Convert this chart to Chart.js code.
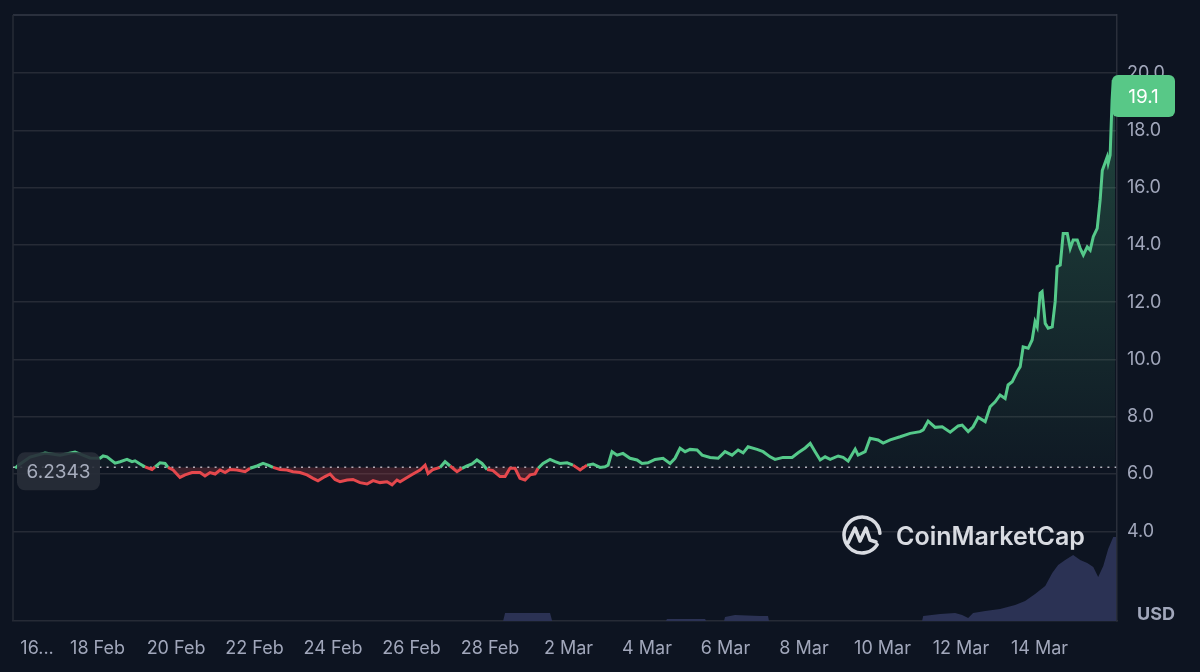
<!DOCTYPE html>
<html>
<head>
<meta charset="utf-8">
<script src="https://cdn.jsdelivr.net/npm/chart.js@4.4.1/dist/chart.umd.min.js"></script>
<style>
  html, body { margin: 0; padding: 0; background: #0d1421; }
  #wrap { width: 1200px; height: 672px; }
</style>
</head>
<body>
<div id="wrap"><canvas id="priceChart" width="1200" height="672"></canvas></div>
<script>
// hours since 16 Feb 00:00
const hours = [
  -2.4, -0.6, 6.7, 15.9, 25.1, 34.2, 43.4, 49.5, 51.4, 53.8, 58.7, 61.8, 66.0, 69.1, 70.9, 74.0, 77.0, 81.3, 83.2, 86.2,
  89.3, 91.1, 94.2, 98.4, 101.5, 105.8, 110.7, 113.7, 116.8, 119.9, 122.9, 126.0, 129.0, 133.3, 138.2, 141.3, 145.5, 149.2, 152.3, 155.3,
  159.6, 163.9, 167.5, 171.8, 176.1, 179.8, 182.8, 187.1, 190.2, 193.2, 196.3, 200.6, 204.2, 208.5, 212.8, 216.5, 220.7, 225.0, 228.1, 231.1,
  233.0, 237.3, 240.9, 245.2, 248.3, 250.1, 253.2, 257.4, 260.5, 263.6, 267.8, 270.9, 273.9, 277.0, 280.0, 283.1, 286.2, 289.8, 294.1, 297.2,
  300.2, 303.3, 306.3, 309.4, 312.5, 315.5, 317.4, 320.4, 324.7, 327.8, 330.8, 335.1, 338.8, 343.1, 347.3, 351.0, 355.3, 358.3, 360.2, 362.6,
  365.7, 369.3, 373.6, 377.9, 380.9, 384.6, 388.9, 393.8, 398.1, 401.1, 404.2, 407.3, 410.3, 414.6, 417.7, 422.6, 427.5, 431.7, 436.0, 439.7,
  442.8, 445.8, 451.3, 455.0, 459.3, 462.3, 467.2, 472.7, 476.4, 480.7, 483.8, 486.8, 489.9, 492.9, 496.0, 500.9, 503.9, 507.0, 511.3, 513.1,
  517.4, 520.4, 525.3, 528.4, 532.7, 538.8, 544.9, 551.0, 552.9, 555.9, 560.2, 564.5, 569.4, 574.3, 576.7, 580.4, 583.4, 586.5, 590.8, 593.8,
  596.9, 599.9, 603.0, 604.8, 607.3, 610.3, 612.2, 614.0, 617.1, 619.5, 621.3, 622.6, 624.4, 625.6, 627.5, 629.3, 631.8, 633.6, 634.8, 636.7,
  638.5, 641.0, 642.8, 644.6, 647.1, 648.9, 650.8, 653.2, 655.0, 656.9, 659.3, 661.1, 662.4, 665.4, 666.0, 667.2, 668.4, 669.1, 670.3
];
const prices = [
  6.20, 6.30, 6.59, 6.73, 6.66, 6.77, 6.56, 6.55, 6.63, 6.60, 6.38, 6.43, 6.51, 6.43, 6.46, 6.35, 6.25, 6.16, 6.25, 6.39,
  6.37, 6.23, 6.14, 5.88, 5.97, 6.05, 6.05, 5.93, 6.05, 6.00, 6.14, 6.05, 6.16, 6.14, 6.08, 6.20, 6.28, 6.37, 6.31, 6.23,
  6.16, 6.14, 6.08, 6.05, 5.97, 5.85, 5.76, 5.91, 6.00, 5.81, 5.73, 5.79, 5.81, 5.70, 5.65, 5.77, 5.70, 5.73, 5.62, 5.79,
  5.73, 5.88, 6.00, 6.14, 6.31, 6.02, 6.16, 6.23, 6.43, 6.28, 6.08, 6.20, 6.28, 6.35, 6.49, 6.37, 6.16, 6.12, 5.91, 5.91,
  6.20, 6.20, 5.85, 5.79, 5.97, 6.00, 6.20, 6.37, 6.51, 6.43, 6.37, 6.39, 6.31, 6.14, 6.31, 6.35, 6.23, 6.25, 6.31, 6.78,
  6.66, 6.72, 6.55, 6.49, 6.37, 6.39, 6.51, 6.55, 6.37, 6.55, 6.90, 6.78, 6.86, 6.84, 6.66, 6.58, 6.55, 6.78, 6.66, 6.84,
  6.74, 6.95, 6.86, 6.78, 6.60, 6.51, 6.58, 6.58, 6.74, 6.91, 7.07, 6.78, 6.49, 6.60, 6.51, 6.63, 6.58, 6.45, 6.87, 6.66,
  6.78, 7.25, 7.19, 7.08, 7.19, 7.30, 7.42, 7.48, 7.54, 7.85, 7.63, 7.65, 7.46, 7.68, 7.71, 7.48, 7.65, 7.98, 7.83, 8.35,
  8.52, 8.76, 8.64, 9.11, 9.22, 9.57, 9.75, 10.44, 10.39, 10.68, 11.32, 11.14, 12.31, 12.37, 11.26, 11.09, 11.14, 12.02, 13.24, 13.30,
  14.40, 14.40, 13.88, 14.17, 14.17, 13.88, 13.65, 13.93, 13.82, 14.29, 14.58, 15.57, 16.60, 17.07, 16.86, 17.14, 19.06, 19.76, 19.10
];

// volume (arbitrary units)
const volHours = [
  -3.7, 296.0, 297.2, 324.7, 326.0, 395.6, 396.2, 419.5, 420.1, 431.1, 431.7, 437.8, 453.1, 458.0, 458.6, 552.2, 552.9, 563.2, 572.4, 576.7,
  580.4, 583.4, 590.8, 599.9, 609.1, 615.2, 621.3, 627.5, 631.8, 635.4, 639.7, 644.6, 648.9, 653.2, 656.9, 659.9, 663.0, 666.0, 669.1, 670.9
];
const volumes = [
  0, 0, 8, 8, 0, 0, 2, 2, 0, 0, 4, 6, 5, 5, 0, 0, 5, 7, 8, 6,
  3, 8, 10, 12, 16, 20, 27, 35, 48, 56, 61, 66, 61, 58, 54, 44, 55, 72, 84, 84
];

const tickHours = [11, 48, 96, 144, 192, 240, 288, 336, 384, 432, 480, 528, 576, 624];
const tickLabels = ['16...', '18 Feb', '20 Feb', '22 Feb', '24 Feb', '26 Feb', '28 Feb', '2 Mar', '4 Mar', '6 Mar', '8 Mar', '10 Mar', '12 Mar', '14 Mar'];
const yTicks = [4, 6, 8, 10, 12, 14, 16, 18, 20];
const openPrice = 6.2343;

const GREEN = '#55c98a';
const RED = '#e5484d';
const LABEL = '#a1a7bb';
const GRID = '#262b36';

Chart.defaults.font.family = 'Inter, "Noto Sans", sans-serif';
Chart.defaults.color = LABEL;

const priceData = hours.map((h, i) => ({ x: h, y: prices[i] }));
const volData = volHours.map((h, i) => ({ x: h, y: volumes[i] }));
const baseData = [{ x: -3.7, y: openPrice }, { x: 670.9, y: openPrice }];

const decorPlugin = {
  id: 'decor',
  beforeDraw(chart) {
    const ctx = chart.ctx;
    ctx.save();
    ctx.fillStyle = '#0d1421';
    ctx.fillRect(0, 0, chart.width, chart.height);
    ctx.restore();
  },
  beforeDatasetsDraw(chart) {
    const { ctx, chartArea } = chart;
    ctx.save();
    ctx.strokeStyle = '#353a47';
    ctx.lineWidth = 1.5;
    ctx.beginPath();
    ctx.moveTo(chartArea.left, chartArea.top);
    ctx.lineTo(chartArea.right, chartArea.top);
    ctx.stroke();
    ctx.strokeStyle = GRID;
    ctx.beginPath();
    ctx.moveTo(chartArea.left, chartArea.top);
    ctx.lineTo(chartArea.left, chartArea.bottom);
    ctx.stroke();

    // watermark
    const cx = 862, cy = 535, r = 18;
    ctx.strokeStyle = 'rgba(228,230,236,0.95)';
    ctx.lineWidth = 3.5;
    ctx.lineCap = 'round';
    ctx.lineJoin = 'round';
    ctx.beginPath();
    ctx.arc(cx, cy, r, 0.18 * Math.PI, 1.97 * Math.PI);
    ctx.stroke();
    ctx.beginPath();
    ctx.moveTo(cx - 14, cy + 8);
    ctx.lineTo(cx - 7, cy - 7);
    ctx.lineTo(cx - 2, cy + 6);
    ctx.lineTo(cx + 4, cy - 7);
    ctx.lineTo(cx + 8, cy + 5);
    ctx.lineTo(cx + 14, cy + 7);
    ctx.stroke();
    ctx.fillStyle = 'rgba(228,230,236,0.95)';
    ctx.font = '600 25px Inter, "Noto Sans", sans-serif';
    ctx.textBaseline = 'alphabetic';
    ctx.textAlign = 'left';
    ctx.fillText('CoinMarketCap', 896, 545);
    ctx.restore();
  },
  afterDraw(chart) {
    const { ctx } = chart;
    const y = chart.scales.y;
    ctx.save();
    // last price tag
    const last = prices[prices.length - 1];
    const ly = y.getPixelForValue(last) - 3;
    ctx.fillStyle = '#58c887';
    ctx.beginPath();
    ctx.roundRect(1112, ly - 21, 63, 42, 6);
    ctx.fill();
    ctx.fillStyle = '#ffffff';
    ctx.font = '19px Inter, "Noto Sans", sans-serif';
    ctx.textAlign = 'center';
    ctx.textBaseline = 'middle';
    ctx.fillText(last.toFixed(1), 1143.5, ly + 1);

    // open price tag
    const oy = y.getPixelForValue(openPrice) + 4;
    ctx.fillStyle = 'rgba(40,45,56,0.9)';
    ctx.beginPath();
    ctx.roundRect(17, oy - 19, 83, 38, 8);
    ctx.fill();
    ctx.fillStyle = '#a7adbd';
    ctx.fillText(openPrice.toString(), 58.5, oy + 1);

    // currency
    ctx.fillStyle = LABEL;
    ctx.font = 'bold 18px Inter, "Noto Sans", sans-serif';
    ctx.textAlign = 'left';
    ctx.fillText('USD', 1137, 615);
    ctx.restore();
  }
};

const ctx = document.getElementById('priceChart').getContext('2d');
new Chart(ctx, {
  type: 'line',
  data: {
    datasets: [
      {
        label: 'Price',
        data: priceData,
        order: 1,
        borderColor: GREEN,
        borderWidth: 3,
        pointRadius: 0,
        tension: 0,
        segment: {
          borderColor: c => ((c.p0.parsed.y + c.p1.parsed.y) / 2 < openPrice ? RED : GREEN)
        },
        backgroundColor: function (context) {
          const chart = context.chart;
          const area = chart.chartArea;
          if (!area || !chart.scales.y) return 'rgba(85,201,138,0.1)';
          const y0 = chart.scales.y.getPixelForValue(openPrice);
          const g = chart.ctx.createLinearGradient(0, area.top, 0, y0);
          g.addColorStop(0, 'rgba(85,201,138,0.32)');
          g.addColorStop(1, 'rgba(85,201,138,0.03)');
          return g;
        },
        fill: { target: { value: openPrice }, below: 'rgba(229,72,77,0.22)' }
      },
      {
        label: 'Open',
        data: baseData,
        order: 2,
        borderColor: 'rgba(220,224,235,0.8)',
        borderWidth: 1.6,
        borderDash: [2, 5.2],
        pointRadius: 0,
        fill: false
      },
      {
        label: 'Volume',
        data: volData,
        yAxisID: 'yVol',
        order: 3,
        borderWidth: 0,
        borderColor: 'rgba(0,0,0,0)',
        backgroundColor: '#2b3254',
        pointRadius: 0,
        tension: 0,
        fill: 'origin'
      }
    ]
  },
  options: {
    responsive: false,
    animation: false,
    devicePixelRatio: 1,
    layout: { padding: { left: 13, top: 15, right: 0, bottom: 0 } },
    plugins: { legend: { display: false }, tooltip: { enabled: false } },
    scales: {
      x: {
        type: 'linear',
        min: -3.7,
        max: 671.4,
        afterBuildTicks: axis => { axis.ticks = tickHours.map(v => ({ value: v })); },
        afterFit: axis => { axis.height = 51; axis.paddingLeft = 0; axis.paddingRight = 0; },
        grid: { display: false, drawTicks: false },
        border: { display: true, color: GRID, width: 1.5 },
        ticks: {
          autoSkip: false,
          maxRotation: 0,
          padding: 17,
          color: LABEL,
          font: { size: 18 },
          callback: (v, i) => tickLabels[i]
        }
      },
      y: {
        position: 'right',
        min: 0.867,
        max: 22.03,
        afterBuildTicks: axis => { axis.ticks = yTicks.map(v => ({ value: v })); },
        afterFit: axis => { axis.width = 83; axis.paddingTop = 0; axis.paddingBottom = 0; },
        grid: { color: GRID, lineWidth: 1.5, drawTicks: false },
        border: { display: true, color: '#2a2f3b', width: 1.5 },
        ticks: {
          padding: 10,
          color: LABEL,
          font: { size: 18 },
          callback: v => v.toFixed(1)
        }
      },
      yVol: {
        display: false,
        min: 0,
        max: 606
      }
    }
  },
  plugins: [decorPlugin]
});
</script>
</body>
</html>
